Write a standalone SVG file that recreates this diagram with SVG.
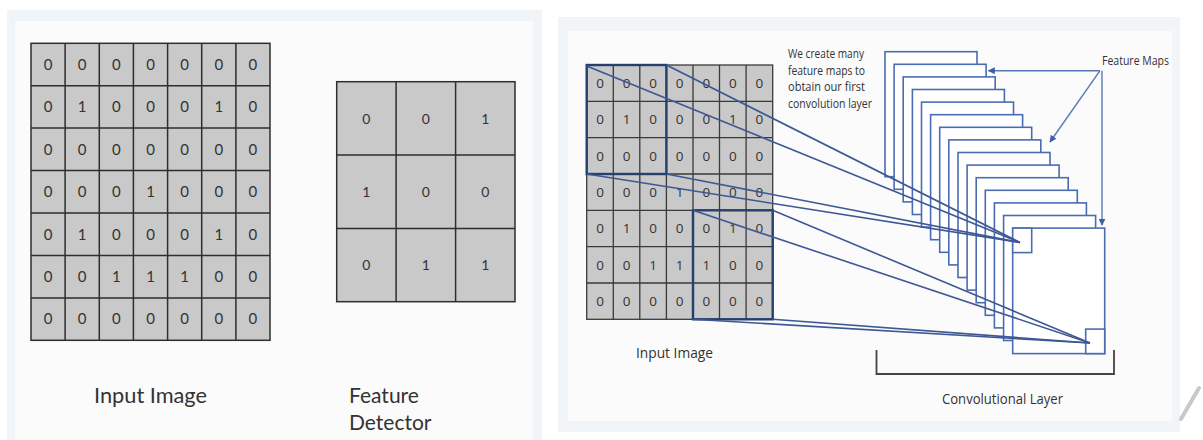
<svg xmlns="http://www.w3.org/2000/svg" width="1203" height="440" viewBox="0 0 1203 440">
  <style>
    .frame { fill: #f1f5f7; }
    .inner { fill: #fbfbfb; }
    .cell { fill: #c9c9c9; stroke: #2e2e2e; stroke-width: 1.5; }
    .rcell { fill: #c9c9c9; stroke: #3a3a3a; stroke-width: 1.3; }
    .digitL { font-family: Lato, "Liberation Sans", sans-serif; font-size: 15px; fill: #333; text-anchor: middle; }
    .digitS { font-family: Lato, "Liberation Sans", sans-serif; font-size: 14px; fill: #333; text-anchor: middle; }
    .digitR { font-family: "Open Sans", "Liberation Sans", sans-serif; font-size: 13.5px; fill: #333; text-anchor: middle; }
    .capL { font-family: Lato, "Liberation Sans", sans-serif; font-size: 21px; fill: #333; }
    .capR { font-family: "Open Sans", "Liberation Sans", sans-serif; fill: #333; }
    .patch { fill: none; stroke: #26406e; stroke-width: 2.4; }
    .fmap { fill: #ffffff; stroke: #4a6cb3; stroke-width: 1.6; }
    .link { stroke: #3d5894; stroke-width: 1.6; fill: none; }
    .ptr { stroke: #5a78b5; stroke-width: 1.4; fill: none; marker-end: url(#tip); }
  </style>
  <defs>
    <marker id="tip" viewBox="0 0 10 10" refX="9" refY="5" markerWidth="5" markerHeight="5" orient="auto">
      <path d="M0,0 L10,5 L0,10 z" fill="#3f5fa5"/>
    </marker>
  </defs>

  <rect width="1203" height="440" fill="#ffffff"/>

  <!-- left panel background -->
  <g id="panel-left">
    <rect class="frame" x="7" y="10" width="535" height="430"/>
    <rect class="inner" x="15" y="21" width="518" height="419"/>
  </g>

  <!-- right panel background -->
  <g id="panel-right">
    <rect class="frame" x="558" y="17" width="622" height="415"/>
    <rect class="inner" x="568" y="31" width="604" height="390"/>
  </g>

  <!-- 7x7 input image -->
  <g id="input-image">
    <rect class="cell" x="31" y="43.3" width="239" height="297"/>
    <path d="M65.1,43.3V340.3 M99.3,43.3V340.3 M133.4,43.3V340.3 M167.6,43.3V340.3 M201.7,43.3V340.3 M235.9,43.3V340.3 M31,85.7H270 M31,128.1H270 M31,170.6H270 M31,213H270 M31,255.4H270 M31,297.9H270" stroke="#2e2e2e" stroke-width="1.5" fill="none"/>
    <text class="digitL" x="48.1 82.2 116.4 150.5 184.6 218.8 252.9" y="70">0000000</text>
    <text class="digitL" x="48.1 82.2 116.4 150.5 184.6 218.8 252.9" y="112.4">0100010</text>
    <text class="digitL" x="48.1 82.2 116.4 150.5 184.6 218.8 252.9" y="154.8">0000000</text>
    <text class="digitL" x="48.1 82.2 116.4 150.5 184.6 218.8 252.9" y="197.2">0001000</text>
    <text class="digitL" x="48.1 82.2 116.4 150.5 184.6 218.8 252.9" y="239.6">0100010</text>
    <text class="digitL" x="48.1 82.2 116.4 150.5 184.6 218.8 252.9" y="282">0011100</text>
    <text class="digitL" x="48.1 82.2 116.4 150.5 184.6 218.8 252.9" y="324.4">0000000</text>
    <text class="capL" x="94" y="402.5" textLength="113" lengthAdjust="spacingAndGlyphs">Input Image</text>
  </g>

  <!-- 3x3 feature detector -->
  <g id="feature-detector">
    <rect class="cell" x="336.7" y="81.7" width="178.3" height="220"/>
    <path d="M396.1,81.7V301.7 M455.6,81.7V301.7 M336.7,155H515 M336.7,228.4H515" stroke="#2e2e2e" stroke-width="1.5" fill="none"/>
    <text class="digitS" x="366.4 425.8 485.3" y="123.5">001</text>
    <text class="digitS" x="366.4 425.8 485.3" y="196.9">100</text>
    <text class="digitS" x="366.4 425.8 485.3" y="270.3">011</text>
    <text class="capL" x="349" y="402.5">Feature</text>
    <text class="capL" x="349" y="430">Detector</text>
  </g>

  <!-- input image feeding the convolution -->
  <g id="conv-input">
    <rect class="rcell" x="586.7" y="65" width="186" height="254.3"/>
    <path d="M613.3,65V319.3 M639.8,65V319.3 M666.4,65V319.3 M693,65V319.3 M719.5,65V319.3 M746.1,65V319.3 M586.7,101.3H772.7 M586.7,137.7H772.7 M586.7,174H772.7 M586.7,210.3H772.7 M586.7,246.6H772.7 M586.7,283H772.7" stroke="#3a3a3a" stroke-width="1.3" fill="none"/>
    <text class="digitR" x="600 626.6 653.1 679.7 706.3 732.8 759.4" y="88">0000000</text>
    <text class="digitR" x="600 626.6 653.1 679.7 706.3 732.8 759.4" y="124.3">0100010</text>
    <text class="digitR" x="600 626.6 653.1 679.7 706.3 732.8 759.4" y="160.6">0000000</text>
    <text class="digitR" x="600 626.6 653.1 679.7 706.3 732.8 759.4" y="196.9">0001000</text>
    <text class="digitR" x="600 626.6 653.1 679.7 706.3 732.8 759.4" y="233.3">0100010</text>
    <text class="digitR" x="600 626.6 653.1 679.7 706.3 732.8 759.4" y="269.6">0011100</text>
    <text class="digitR" x="600 626.6 653.1 679.7 706.3 732.8 759.4" y="305.9">0000000</text>
    <rect class="patch" x="586.7" y="65" width="79.7" height="109"/>
    <rect class="patch" x="693" y="210.3" width="79.7" height="109"/>
    <text class="capR" x="636" y="358" font-size="14.5" textLength="77" lengthAdjust="spacingAndGlyphs">Input Image</text>
  </g>

  <!-- stack of feature maps, back to front -->
  <g id="feature-maps">
    <rect class="fmap" x="885" y="51.7" width="92" height="125"/>
    <rect class="fmap" x="894.1" y="64.3" width="92" height="125"/>
    <rect class="fmap" x="903.2" y="76.9" width="92" height="125"/>
    <rect class="fmap" x="912.4" y="89.5" width="92" height="125"/>
    <rect class="fmap" x="921.5" y="102.1" width="92" height="125"/>
    <rect class="fmap" x="930.6" y="114.7" width="92" height="125"/>
    <rect class="fmap" x="939.7" y="127.3" width="92" height="125"/>
    <rect class="fmap" x="948.8" y="139.9" width="92" height="125"/>
    <rect class="fmap" x="958" y="152.5" width="92" height="125"/>
    <rect class="fmap" x="967.1" y="165.1" width="92" height="125"/>
    <rect class="fmap" x="976.2" y="177.7" width="92" height="125"/>
    <rect class="fmap" x="985.3" y="190.3" width="92" height="125"/>
    <rect class="fmap" x="994.4" y="202.9" width="92" height="125"/>
    <rect class="fmap" x="1003.6" y="215.5" width="92" height="125"/>
    <rect class="fmap" x="1012.7" y="228.1" width="92" height="125.5"/>
    <rect class="fmap" x="1012.7" y="228.1" width="19" height="24.5"/>
    <rect class="fmap" x="1085.7" y="329.1" width="19" height="24.5"/>
  </g>

  <!-- captions of the convolution side -->
  <g id="note" class="capR" font-size="12.5">
    <text x="788" y="58" textLength="76" lengthAdjust="spacingAndGlyphs">We create many</text>
    <text x="788" y="74.7" textLength="77" lengthAdjust="spacingAndGlyphs">feature maps to</text>
    <text x="788" y="91.3" textLength="77" lengthAdjust="spacingAndGlyphs">obtain our first</text>
    <text x="788" y="108" textLength="84" lengthAdjust="spacingAndGlyphs">convolution layer</text>
  </g>
  <g id="feature-maps-label">
    <text class="capR" x="1102" y="65" font-size="12.5" textLength="67" lengthAdjust="spacingAndGlyphs">Feature Maps</text>
  </g>
  <g id="conv-layer">
    <path d="M876.5,350V374H1114V350" fill="none" stroke="#444" stroke-width="1.8"/>
    <text class="capR" x="942" y="404" font-size="15" textLength="121" lengthAdjust="spacingAndGlyphs">Convolutional Layer</text>
  </g>

  <!-- connectors -->
  <g id="connectors">
    <line class="link" x1="586.7" y1="66" x2="1020" y2="242.5"/>
    <line class="link" x1="666.4" y1="65" x2="1020" y2="242.5"/>
    <line class="link" x1="586.7" y1="174" x2="1020" y2="242.5"/>
    <line class="link" x1="666.4" y1="174" x2="1020" y2="242.5"/>
    <line class="link" x1="693" y1="210.3" x2="1090" y2="343"/>
    <line class="link" x1="772.7" y1="210.3" x2="1090" y2="343"/>
    <line class="link" x1="693" y1="319.3" x2="1090" y2="343"/>
    <line class="link" x1="772.7" y1="319.3" x2="1090" y2="343"/>
    <line class="ptr" x1="1100" y1="70.7" x2="988.5" y2="70.7"/>
    <line class="ptr" x1="1100" y1="70.7" x2="1050" y2="142"/>
    <line class="ptr" x1="1102" y1="70.7" x2="1102" y2="225"/>
  </g>

  <!-- corner mark -->
  <path d="M1181,419 L1199,388" stroke="#c9c9c9" stroke-width="4" stroke-linecap="round" fill="none"/>
</svg>
